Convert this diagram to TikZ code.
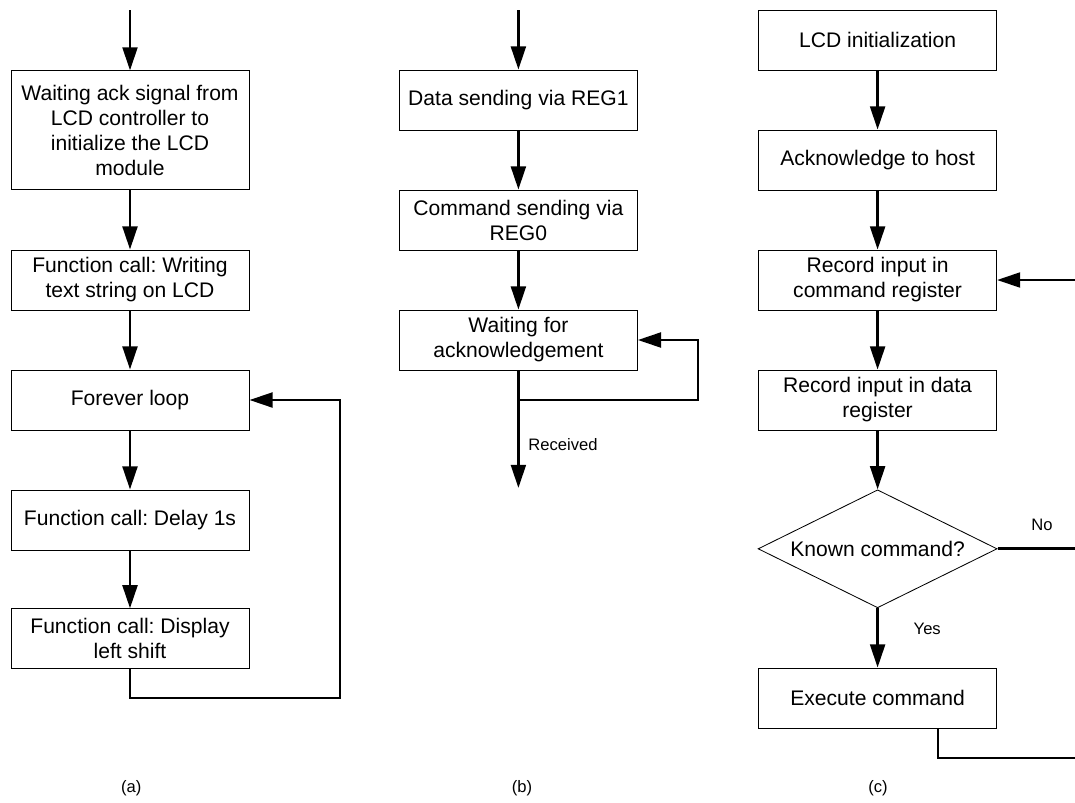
\documentclass[tikz,border=0pt]{standalone}
\usepackage{fontspec}
\setmainfont{Liberation Sans}
\frenchspacing
\usetikzlibrary{shapes.geometric,arrows.meta,calc}
\begin{document}
\begin{tikzpicture}[font=\fontsize{15}{17.8}\selectfont,line join=miter,>={Triangle[length=5.8mm,width=3.7mm]},
	box/.style={draw,line width=0.6pt,minimum width=5.95cm,minimum height=1.5cm,align=center,inner sep=0pt},
	flow/.style={->,line width=2pt},
	lbl/.style={font=\fontsize{11.8}{14}\selectfont}]
	\useasboundingbox (0,0) rectangle (26.875,-20.05);
	\clip (0,0) rectangle (26.875,-20.05);
	% (a)
	\coordinate (ina) at (3.25,-0.25);
	\node[box,minimum height=2.975cm] (wait) at (3.25,-3.26) {Waiting ack signal from\\LCD controller to\\initialize the LCD\\module};
	\node[box] (write) at (3.25,-7) {Function call: Writing\\text string on LCD};
	\node[box] (loop) at (3.25,-10) {Forever loop};
	\node[box] (delay) at (3.25,-13) {Function call: Delay 1s};
	\node[box] (shift) at (3.25,-15.97) {Function call: Display\\left shift};
	\coordinate (ra) at (8.5,-17.45);
	\draw[flow] (ina)--(wait);
	\foreach \a/\b in {wait/write, write/loop, loop/delay, delay/shift} \draw[flow] (\a)--(\b);
	\draw[flow] (shift.south) |- (ra) |- (loop.east);
	% (b)
	\coordinate (inb) at (12.96,-0.25);
	\node[box] (data) at (12.96,-2.5) {Data sending via REG1};
	\node[box] (cmd) at (12.96,-5.5) {Command sending via\\REG0};
	\node[box] (ack) at (12.96,-8.5) {Waiting for\\acknowledgement};
	\coordinate (rb) at (17.45,-10);
	\coordinate (outb) at (12.96,-12.2);
	\draw[flow] (inb)--(data);
	\foreach \a/\b in {data/cmd, cmd/ack} \draw[flow] (\a)--(\b);
	\draw[flow] (ack.south) |- (rb) |- (ack.east);
	\draw[flow] (ack.south)--(outb) node[lbl,pos=0.63,right=1mm]{Received};
	% (c)
	\node[box] (init) at (21.94,-1.01) {LCD initialization};
	\node[box] (host) at (21.94,-4) {Acknowledge to host};
	\node[box] (creg) at (21.94,-7) {Record input in\\command register};
	\node[box] (dreg) at (21.94,-10) {Record input in data\\register};
	\node[draw,diamond,aspect=2.025,line width=0.6pt,minimum width=5.975cm,minimum height=2.95cm,inner sep=0pt] (known) at (21.94,-13.72) {Known command?};
	\node[box] (exe) at (21.94,-17.45) {Execute command};
	\coordinate (exo) at ($(exe.south)+(1.51,0)$);
	\coordinate (rc) at (27.3,-18.95);
	\foreach \a/\b in {init/host, host/creg, creg/dreg, dreg/known} \draw[flow] (\a)--(\b);
	\draw[flow] (known)--(exe) node[lbl,pos=0.35,right=7.5mm]{Yes};
	\draw[line width=2pt] (known.east)--(known.east -| rc) node[lbl,pos=0.47,above=3mm]{No};
	\draw[flow] (exo) |- (rc) |- (creg.east);
	% captions
	\foreach \x/\t in {3.28/a, 13.05/b, 21.95/c} \node[lbl] (cap\t) at (\x,-19.7) {(\t)};
\end{tikzpicture}
\end{document}
